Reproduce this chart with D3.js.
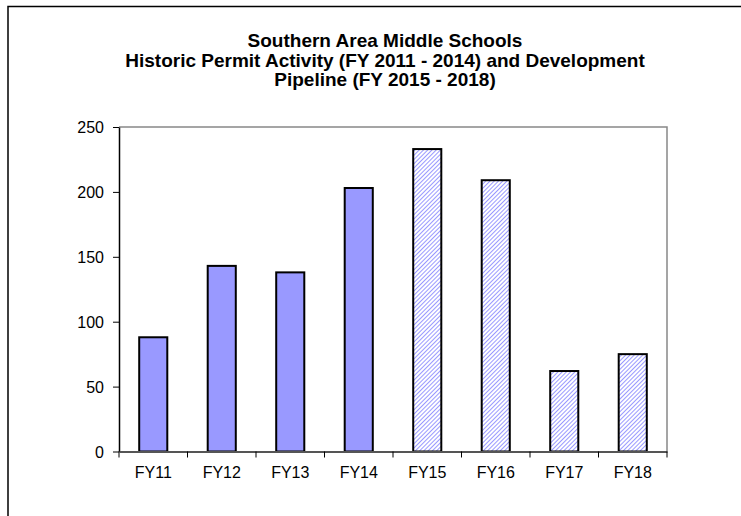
<!DOCTYPE html>
<html>
<head>
<meta charset="utf-8">
<script src="https://cdn.jsdelivr.net/npm/d3@7"></script>
<style>
  body { margin: 0; background: #fff; }
  text { font-family: "Liberation Sans", Arial, sans-serif; fill: #000; }
</style>
</head>
<body>
<svg id="chart" width="741" height="516"></svg>
<script>
const categories = ['FY11', 'FY12', 'FY13', 'FY14', 'FY15', 'FY16', 'FY17', 'FY18'];
const permits = [88, 143, 138, 203, 233, 209, 62, 75];
// first four are historic permits, the rest are pipeline (hatched)
const isPipeline = [false, false, false, false, true, true, true, true];
const yTicks = [0, 50, 100, 150, 200, 250];
const titleLines = [
  'Southern Area Middle Schools',
  'Historic Permit Activity (FY 2011 - 2014) and Development',
  'Pipeline (FY 2015 - 2018)'
];

const svg = d3.select('#chart');
const margin = { left: 119, top: 127, right: 667, bottom: 451.5 };

// hatch pattern for the pipeline bars
const defs = svg.append('defs');
const pat = defs.append('pattern')
  .attr('id', 'hatch')
  .attr('patternUnits', 'userSpaceOnUse')
  .attr('width', 3).attr('height', 3)
  .attr('patternTransform', 'rotate(45)');
pat.append('rect').attr('width', 3).attr('height', 3).attr('fill', '#fff');
pat.append('line')
  .attr('x1', 0.5).attr('y1', 0).attr('x2', 0.5).attr('y2', 3)
  .attr('stroke', '#9999ff').attr('stroke-width', 1);

// outer frame (left + top only visible)
svg.append('path')
  .attr('d', 'M8,516 V6.5 H741')
  .attr('fill', 'none').attr('stroke', '#000').attr('stroke-width', 1.5);

// title
svg.append('g').selectAll('text')
  .data(titleLines)
  .join('text')
  .attr('x', 385)
  .attr('y', (d, i) => 47 + i * 19.5)
  .attr('text-anchor', 'middle')
  .attr('font-size', 19)
  .attr('font-weight', 'bold')
  .text(d => d);

const x = d3.scaleBand().domain(categories)
  .range([margin.left, margin.right]).paddingInner(0.59).paddingOuter(0.295);
const y = d3.scaleLinear().domain([0, 250]).range([margin.bottom, margin.top]);

// plot border: top and right in gray
svg.append('path')
  .attr('d', `M${margin.left},${margin.top} H${margin.right} V${margin.bottom}`)
  .attr('fill', 'none').attr('stroke', '#888').attr('stroke-width', 1.5);

// bars
svg.append('g').selectAll('rect')
  .data(permits)
  .join('rect')
  .attr('x', (d, i) => x(categories[i]))
  .attr('width', x.bandwidth())
  .attr('y', d => y(d))
  .attr('height', d => y(0) - y(d))
  .attr('fill', (d, i) => isPipeline[i] ? 'url(#hatch)' : '#9999ff')
  .attr('stroke', '#000').attr('stroke-width', 2);

// y axis
const yAxis = svg.append('g')
  .attr('transform', `translate(${margin.left},0)`)
  .call(d3.axisLeft(y).tickValues(yTicks).tickSize(6).tickPadding(9).tickSizeOuter(0));
yAxis.attr('font-size', null).attr('font-family', null);
yAxis.select('.domain').attr('stroke', '#000').attr('stroke-width', 1.5);
yAxis.selectAll('.tick line').attr('stroke', '#000');
yAxis.selectAll('text').style('font-size', '16px').attr('dy', '0.35em');

// x axis with ticks at band boundaries
const xAxis = svg.append('g')
  .attr('transform', `translate(0,${margin.bottom})`)
  .call(d3.axisBottom(x).tickSize(0).tickPadding(15).tickSizeOuter(0));
xAxis.attr('font-size', null).attr('font-family', null);
xAxis.select('.domain').attr('stroke', '#555').attr('stroke-width', 2);
xAxis.selectAll('text').style('font-size', '16px');

const step = (margin.right - margin.left) / categories.length;
xAxis.selectAll('line.sep')
  .data(d3.range(categories.length + 1))
  .join('line')
  .attr('class', 'sep')
  .attr('x1', i => margin.left + i * step).attr('x2', i => margin.left + i * step)
  .attr('y1', 0).attr('y2', 6)
  .attr('stroke', '#000');
</script>
</body>
</html>
